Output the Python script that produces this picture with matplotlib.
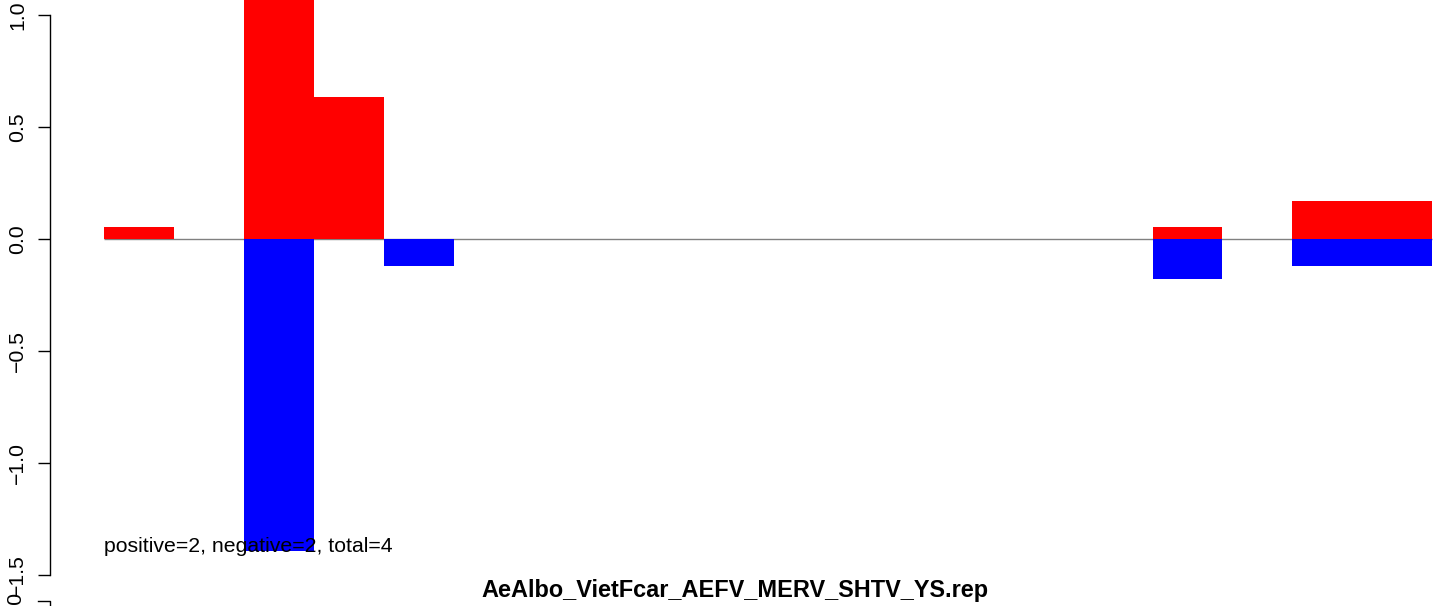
import matplotlib
matplotlib.use('Agg')
from matplotlib import pyplot as plt

# bar values, one slot per window (index 0..18)
positive = [0.054, 0, 1.20, 0.634, 0, 0, 0, 0, 0, 0, 0, 0, 0, 0, 0, 0.054, 0, 0.17, 0.17]
negative = [0, 0, -1.393, 0, -0.119, 0, 0, 0, 0, 0, 0, 0, 0, 0, 0, -0.177, 0, -0.119, -0.119]
y_ticks = [-1.5, -1.0, -0.5, 0.0, 0.5, 1.0]
y_tick_labels = ['\u22121.5', '\u22121.0', '\u22120.5', '0.0', '0.5', '1.0']
note = 'positive=2, negative=2, total=4'
title = 'AeAlbo_VietFcar_AEFV_MERV_SHTV_YS.rep'

plt.rcParams['font.family'] = ['Liberation Sans', 'DejaVu Sans']

W, H = 1449, 606
fig = plt.figure(figsize=(W / 100, H / 100), dpi=100)
ax = fig.add_axes([50 / W, 0, (W - 50) / W, 1])

n = len(positive)
idx = list(range(n))
ax.hlines(0, 0, n, color='#808080', lw=1.0, zorder=1)
ax.bar(idx, positive, width=1.0, align='edge', color='#ff0000', lw=0, zorder=2)
ax.bar(idx, negative, width=1.0, align='edge', color='#0000ff', lw=0, zorder=2)

px = 69.9
xmin = -54 / px
ax.set_xlim(xmin, xmin + (W - 50) / px)
ax.set_ylim(-(H - 239) / 224, 239 / 224)

for s in ['top', 'right', 'bottom']:
    ax.spines[s].set_visible(False)
ax.spines['left'].set_bounds(-1.5, 1.0)
ax.spines['left'].set_linewidth(1.0)
ax.set_xticks([])
ax.set_yticks(y_ticks)
ax.set_yticklabels(y_tick_labels, rotation=90, va='center', fontsize=15.3)
ax.tick_params(axis='y', length=8.6, width=1.0, pad=8)

ax.text(0, -(546 - 239) / 224, note, fontsize=15.3, va='center', ha='left', zorder=5)

# piece of the next panel's axis peeking in at the bottom edge
fig.add_artist(plt.Line2D([38 / W, 50 / W, 50 / W], [1 - 601 / H, 1 - 601 / H, 0], color='black', lw=1.0))
fig.text(15 / W, 1 - 612 / H, '\u22122.0', rotation=90, va='center', ha='center', fontsize=15.3)

fig.text(735 / W, 1 - 590 / H, title, fontsize=16.9, fontweight='bold', ha='center', va='center')

fig.savefig('out.png', dpi=100)
